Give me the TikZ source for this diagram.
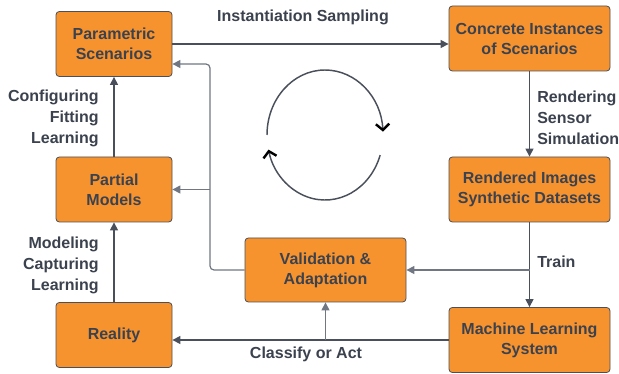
\documentclass[tikz,border=0pt]{standalone}
\usepackage{fontspec}
\setmainfont{Liberation Sans}
\usetikzlibrary{arrows.meta}

\definecolor{boxfill}{HTML}{F7932F}
\definecolor{ink}{HTML}{3B424E}
\definecolor{wirecol}{HTML}{4A505B}
\definecolor{wirelight}{HTML}{707782}

\tikzset{
	box/.style={draw=wirecol, line width=0.6pt, fill=boxfill, rounded corners=2.5pt, text=ink,
		font=\bfseries\fontsize{12}{15}\selectfont, align=center, minimum height=48.75pt, inner sep=2pt},
	smallbox/.style={box, minimum width=87pt},
	widebox/.style={box, minimum width=120.75pt},
	link/.style={draw=wirecol, line width=0.9pt, -{Triangle[length=6pt,width=6pt]}},
	linklight/.style={link, draw=wirelight},
	lbl/.style={text=ink, font=\bfseries\fontsize{12}{15.75}\selectfont, inner sep=0pt},
	cyc/.style={draw=wirecol, line width=1.1pt, -{Straight Barb[length=4.5pt,width=10pt,line width=1.8pt,color=black]}}
}

\begin{document}
\begin{tikzpicture}[x=0.75pt, y=-0.75pt]
	\useasboundingbox (0,0) rectangle (619,374);

	\node[smallbox] (param) at (114,44) {Parametric\\Scenarios};
	\node[smallbox] (partial) at (114,189.5) {Partial\\Models};
	\node[smallbox] (reality) at (114,335) {Reality};
	\node[widebox] (concrete) at (529.5,38.5) {Concrete Instances\\of Scenarios};
	\node[widebox] (rendered) at (529.5,189.5) {Rendered Images\\Synthetic Datasets};
	\node[widebox] (mlsys) at (529.5,340) {Machine Learning\\System};
	\node[widebox, minimum height=48pt] (valid) at (325.5,270) {Validation \&\\Adaptation};

	% main loop
	\draw[link] (param.east) -- (param.east -| concrete.west);
	\draw[link] (concrete) -- (rendered);
	\draw[link] (rendered) -- (mlsys);
	\draw[link] (mlsys.west) -- (mlsys.west -| reality.east);
	\draw[link] (reality) -- (partial);
	\draw[link] (partial) -- (param);

	% validation feedback
	\coordinate (trn) at (rendered.south |- valid.east);
	\coordinate (cls) at (valid.south |- mlsys.west);
	\coordinate (fb) at (210,64);
	\draw[linklight] (trn) -- (valid.east);
	\draw[linklight] (cls) -- (valid.south);
	\draw[linklight, rounded corners=3pt] (valid.west) -| (fb) -- (fb -| param.east);
	\draw[linklight] (fb |- partial.east) -- (partial.east);

	\node[lbl] (samp) at (303,17) {Instantiation Sampling};
	\node[lbl, align=left, anchor=west] (rend) at (537,118) {Rendering\\Sensor\\Simulation};
	\node[lbl, anchor=west] (trainlbl) at (537,262) {Train};
	\node[lbl] (act) at (306,354) {Classify or Act};
	\node[lbl, align=right, anchor=east] (cfg) at (99,118) {Configuring\\Fitting\\Learning};
	\node[lbl, align=right, anchor=east] (mdl) at (99,265) {Modeling\\Capturing\\Learning};

	% cycle symbol
	\coordinate (ctr) at (325,135);
	\draw[cyc] ([shift={(180:43.5pt and 48.75pt)}]ctr) arc[start angle=180, end angle=3, x radius=43.5pt, y radius=48.75pt];
	\draw[cyc] ([shift={(-18:43.5pt and 48.75pt)}]ctr) arc[start angle=-18, end angle=-167, x radius=43.5pt, y radius=48.75pt];
\end{tikzpicture}
\end{document}
